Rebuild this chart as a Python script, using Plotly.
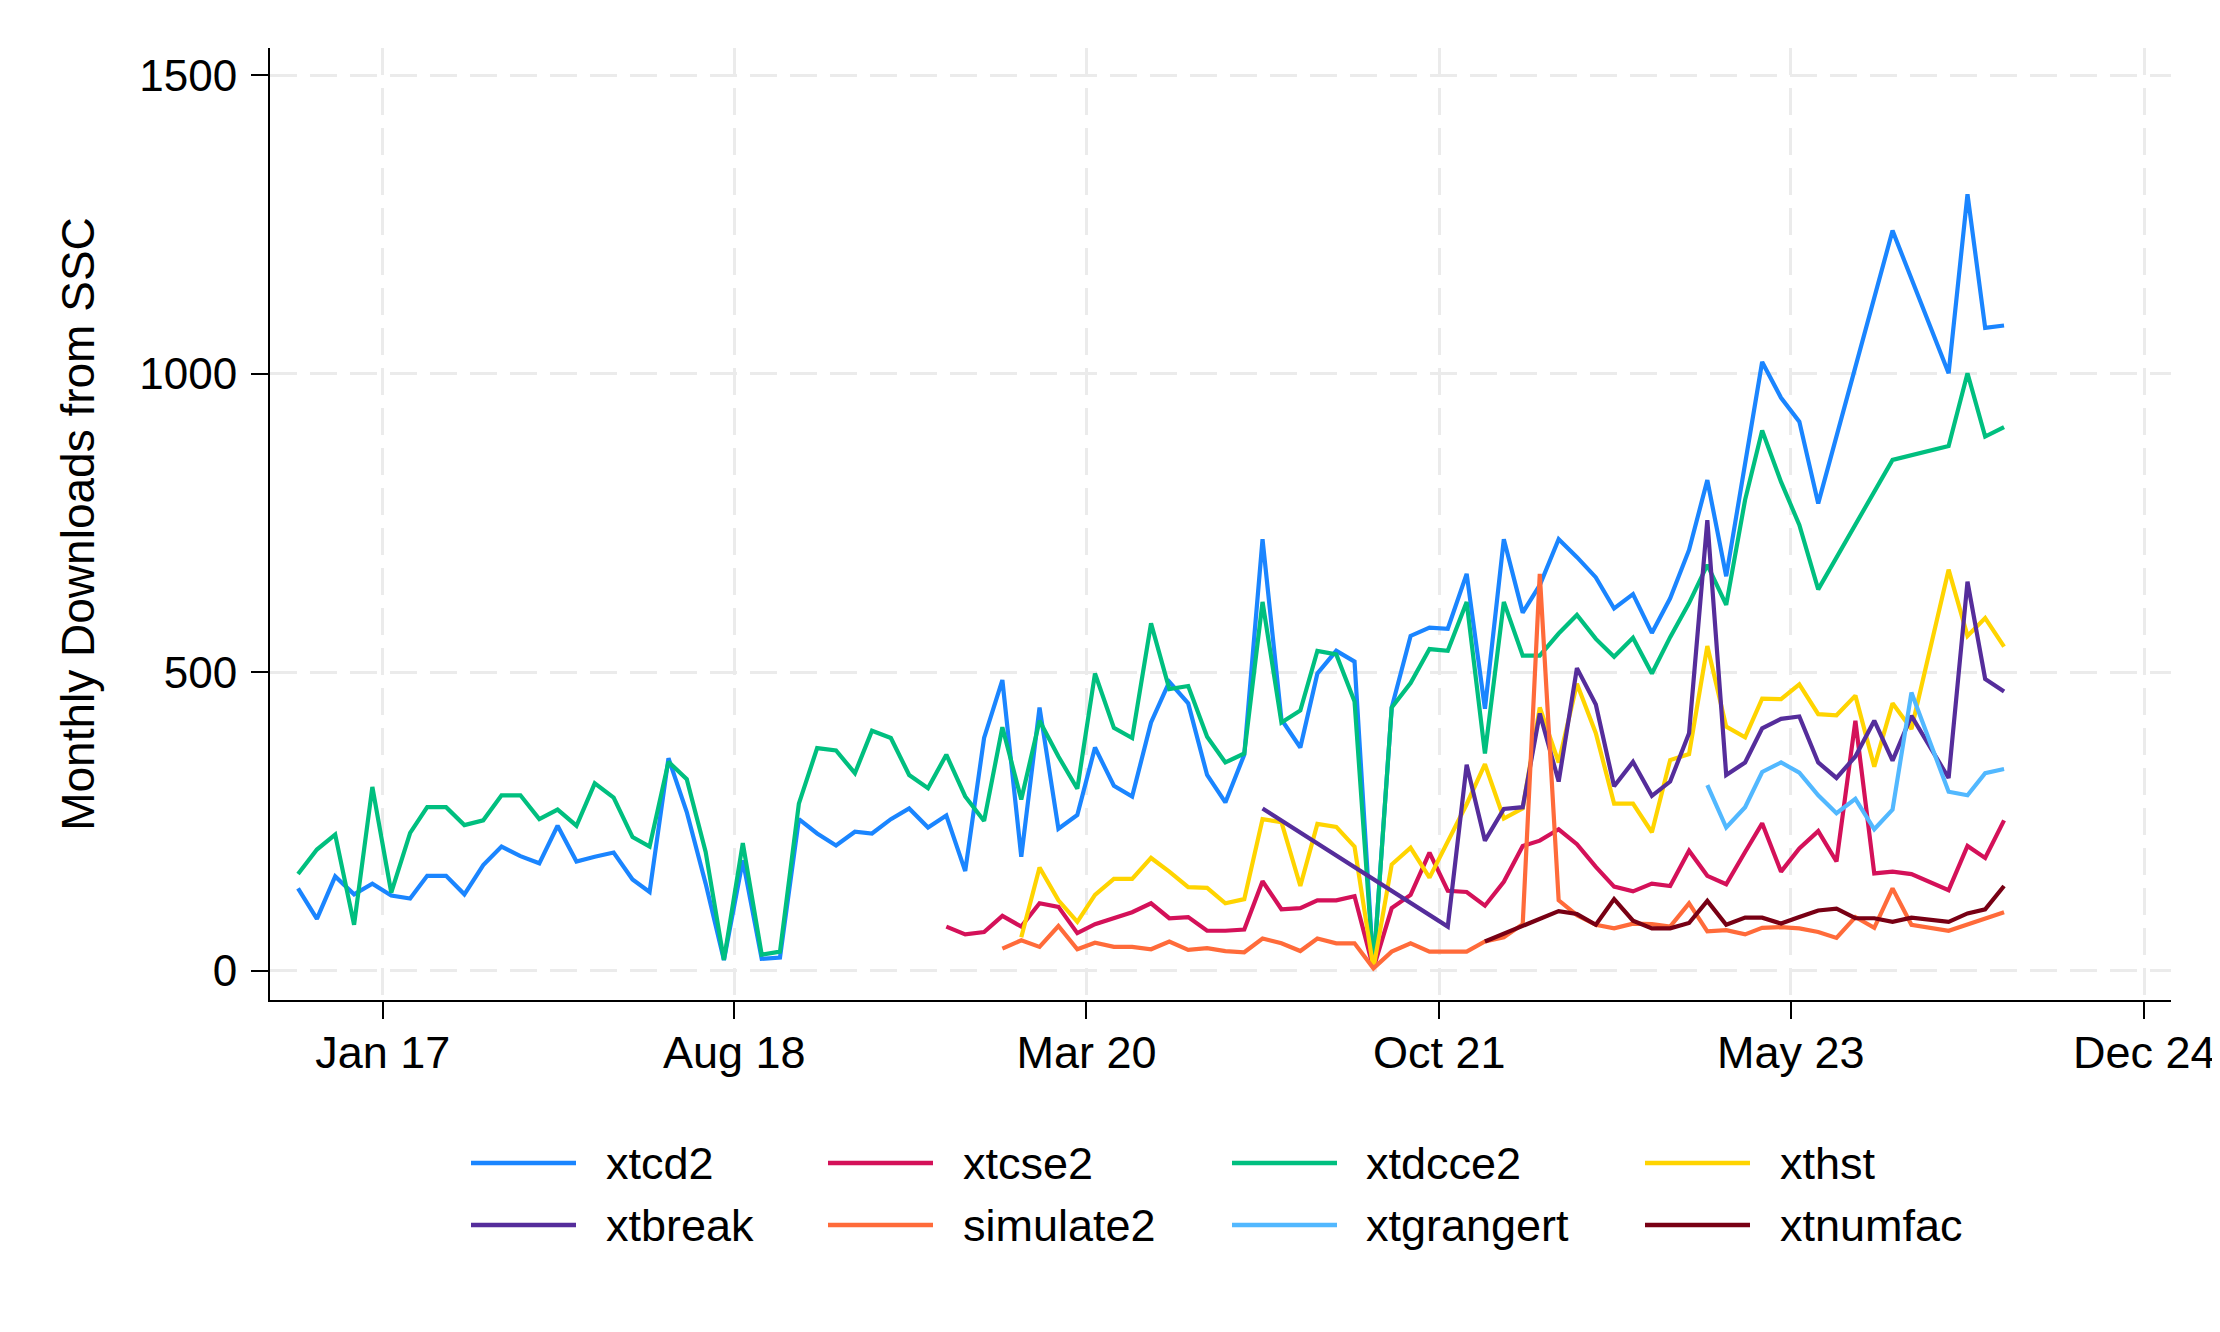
import plotly.graph_objects as go

# ---------------- data (monthly downloads, mid-month points) ----------------
xtcd2_start = "2016-08"
xtcd2 = [138, 87, 158, 128, 146,
         126, 121, 159, 159, 128, 177, 208, 192, 180, 243, 183, 191,
         198, 153, 132, 356, 266, 146, 18, 185, 20, 22, 254, 230,
         210, 233, 230, 254, 272, 240, 260, 167, 390, 487, 191, 441,
         238, 261, 374, 310, 292, 416, 484, 448, 328, 282, 362, 723,
         421, 374, 498, 536, 518, 4, 441, 561, 575, 573, 665, 439,
         723, 600, 646, 723, 693, 659, 607, 631, 566, 624, 705, 822,
         661, None, 1020, 960, 920, 783, None, None, None, 1240, None, None,
         1001, 1301, 1077, 1081]

xtdcce2_start = "2016-08"
xtdcce2 = [162, 203, 228, 77, 308,
           131, 231, 274, 274, 244, 252, 294, 294, 254, 270, 243, 314,
           290, 224, 208, 350, 321, 199, 18, 214, 27, 32, 280, 373,
           369, 331, 402, 390, 328, 306, 362, 292, 251, 408, 287, 419,
           359, 305, 498, 407, 390, 582, 472, 477, 392, 349, 364, 618,
           416, 436, 536, 530, 451, 4, 441, 482, 539, 536, 618, 364,
           618, 528, 528, 565, 596, 556, 526, 558, 498, 559, 616, 680,
           613, 789, 905, 819, 747, 639, None, None, None, 856, None, None,
           879, 1001, 895, 911]

xtcse2_start = "2019-07"
xtcse2 = [74, 61, 65, 92, 74, 113,
          107, 63, 78, 89, 98, 113, 88, 90, 67, 67, 69, 150,
          103, 105, 118, 118, 125, 4, 105, 127, 198, 134, 132, 109,
          149, 209, 218, 237, 212, 174, 141, 133, 146, 142, 201, 159,
          145, 199, 247, 166, 205, 234, 183, 419, 163, 166, 162, None,
          135, 209, 189, 252]

xthst_start = "2019-11"
xthst = [56, 173,
         118, 82, 127, 154, 154, 189, 166, 140, 139, 113, 120, 254,
         249, 142, 246, 241, 208, 4, 178, 206, 156, 218, 279, 346,
         255, 272, 441, 349, 481, 398, 280, 280, 232, 353, 363, 544,
         409, 391, 456, 455, 480, 430, 428, 461, 342, 448, 405, None,
         672, 561, 591, 543]

simulate2_start = "2019-10"
simulate2 = [37, 51, 40,
             75, 36, 47, 40, 40, 36, 49, 35, 38, 33, 31, 54,
             46, 33, 54, 46, 46, 4, 32, 46, 32, 32, 32, 49,
             56, 78, 665, 118, 93, 77, 71, 79, 78, 74, 113, 66,
             68, 61, 72, 73, 71, 65, 55, 90, 72, 138, 77, None,
             67, 78, 88, 98]

xtbreak_start = "2020-12"
xtbreak = [272,
           None, None, None, None, None, None, None, None, None, 74, 345, 218,
           271, 274, 431, 317, 507, 446, 309, 350, 293, 317, 398, 755,
           328, 349, 406, 422, 426, 349, 323, 359, 419, 352, 427, None,
           323, 652, 489, 468]

xtgrangert_start = "2022-12"
xtgrangert = [311,
              240, 274, 333, 349, 332, 294, 264, 288, 237, 270, 466, None,
              300, 294, 331, 338]

xtnumfac_start = "2021-12"
xtnumfac = [49,
            None, None, None, 100, 95, 77, 120, 84, 71, 71, 80, 117,
            77, 89, 89, 79, 90, 101, 104, 88, 88, 82, 89, None,
            82, 96, 103, 142]

tick_dates = ["2017-01-01", "2018-08-01", "2020-03-01", "2021-10-01", "2023-05-01", "2024-12-01"]
tick_labels = ["Jan 17", "Aug 18", "Mar 20", "Oct 21", "May 23", "Dec 24"]
y_ticks = [0, 500, 1000, 1500]

# order as drawn / legend (row-wise)
series = [
    ("xtcd2", xtcd2_start, xtcd2, "#1a85ff"),
    ("xtcse2", xtcse2_start, xtcse2, "#d41159"),
    ("xtdcce2", xtdcce2_start, xtdcce2, "#00bf7f"),
    ("xthst", xthst_start, xthst, "#ffd400"),
    ("xtbreak", xtbreak_start, xtbreak, "#552d9b"),
    ("simulate2", simulate2_start, simulate2, "#ff6b3a"),
    ("xtgrangert", xtgrangert_start, xtgrangert, "#52b8ff"),
    ("xtnumfac", xtnumfac_start, xtnumfac, "#780014"),
]


def month_dates(start, n):
    y, m = int(start[:4]), int(start[5:7])
    out = []
    for _ in range(n):
        out.append(f"{y}-{m:02d}-15")
        m += 1
        if m > 12:
            m = 1
            y += 1
    return out


FONT = "Arial, Liberation Sans, Arimo, sans-serif"
OFF = 8  # default page body margin
W, H = 2220 - OFF, 1332 - OFF
PL, PR, PT, PB = 270 - OFF, 2171 - OFF, 48 - OFF, 1000 - OFF  # plot area in pixels

fig = go.Figure()
for name, start, vals, col in series:
    fig.add_trace(go.Scatter(
        x=month_dates(start, len(vals)), y=vals, name=name, mode="lines",
        line=dict(color=col, width=4.2), connectgaps=True, showlegend=False,
    ))

grid = dict(showgrid=True, gridcolor="#ebebeb", gridwidth=3, griddash="27px,13px",
            showline=True, linecolor="black", linewidth=2, ticks="outside",
            ticklen=17, tickwidth=2, tickcolor="black", zeroline=False)

fig.update_xaxes(type="date", range=["2016-06-30", "2025-01-14"],
                 tickmode="array", tickvals=tick_dates, ticktext=tick_labels,
                 ticklabelstandoff=-5,
                 tickfont=dict(family=FONT, size=45, color="black"), **grid)
fig.update_yaxes(range=[-49, 1546], tickmode="array", tickvals=y_ticks,
                 ticktext=[str(v) for v in y_ticks], ticklabelstandoff=5,
                 tickfont=dict(family=FONT, size=44, color="black"),
                 title=dict(text="Monthly Downloads from SSC",
                            font=dict(family=FONT, size=46, color="black"), standoff=30),
                 **grid)

# legend drawn below the plot (2 rows x 4 columns, long line keys)
def px_x(p):
    return (p - OFF - PL) / (PR - PL)


def px_y(p):
    return (PB - (p - OFF)) / (PB - PT)


key_x = [471, 828, 1232, 1645]
text_x = [604, 961, 1364, 1778]
row_y = [1163, 1225]
shapes, annots = [], []
for i, (name, _, _, col) in enumerate(series):
    r, c = divmod(i, 4)
    shapes.append(dict(type="line", xref="paper", yref="paper",
                       x0=px_x(key_x[c]), x1=px_x(key_x[c] + 105),
                       y0=px_y(row_y[r]), y1=px_y(row_y[r]),
                       line=dict(color=col, width=4.5)))
    annots.append(dict(xref="paper", yref="paper", x=px_x(text_x[c]), y=px_y(row_y[r]),
                       text=name, showarrow=False, xanchor="left", yanchor="middle",
                       font=dict(family=FONT, size=45, color="black")))

fig.update_layout(width=W, height=H,
                  margin=dict(l=PL, r=W - PR, t=PT, b=H - PB, autoexpand=False),
                  plot_bgcolor="white", paper_bgcolor="white",
                  font=dict(family=FONT, size=44, color="black"),
                  showlegend=False, shapes=shapes, annotations=annots)

fig.write_html("out.html")
